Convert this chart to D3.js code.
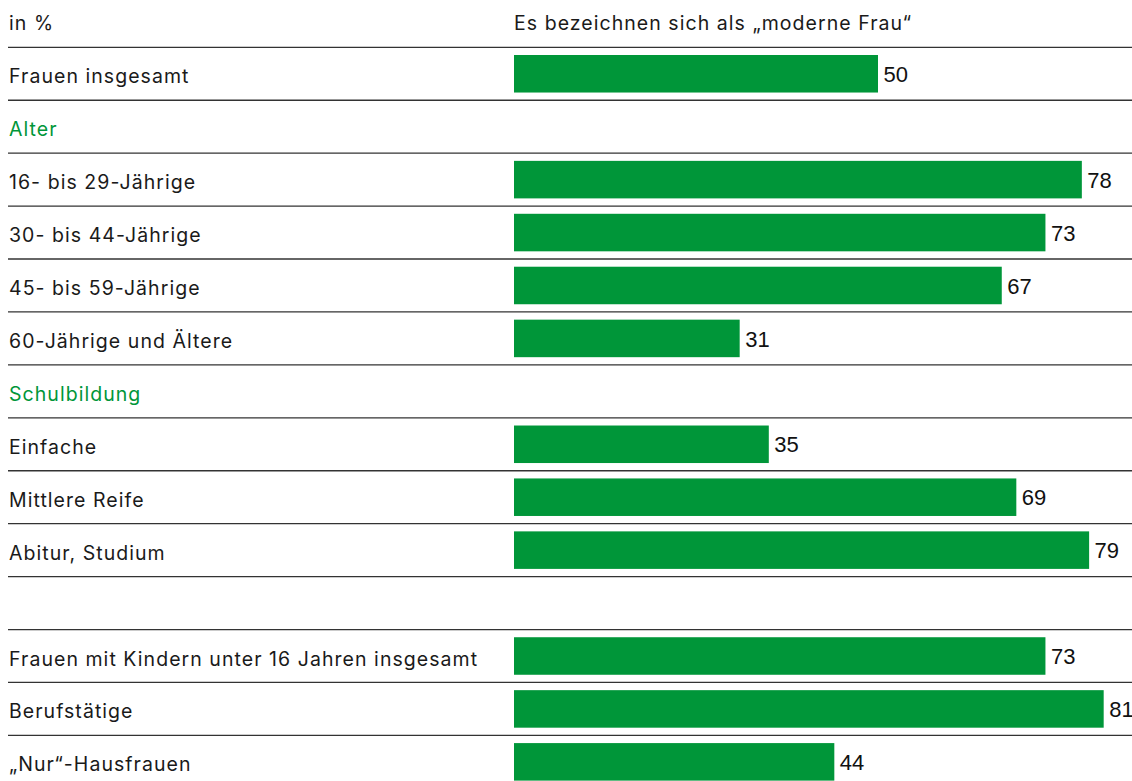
<!DOCTYPE html>
<html>
<head>
<meta charset="utf-8">
<script src="https://cdn.jsdelivr.net/npm/d3@7"></script>
<style>
  html, body { margin: 0; padding: 0; background: #fff; }
  svg { display: block; }
</style>
</head>
<body>
<svg width="1132" height="781"></svg>
<script>
const unitLabel = 'in %';
const seriesTitle = 'Es bezeichnen sich als \u201Emoderne Frau\u201C';

// one entry per table row; null value = section heading or empty spacer row
const rowLabels = [
  'Frauen insgesamt',
  'Alter',
  '16- bis 29-Jährige',
  '30- bis 44-Jährige',
  '45- bis 59-Jährige',
  '60-Jährige und Ältere',
  'Schulbildung',
  'Einfache',
  'Mittlere Reife',
  'Abitur, Studium',
  '',
  'Frauen mit Kindern unter 16 Jahren insgesamt',
  'Berufstätige',
  '\u201ENur\u201C-Hausfrauen',
];
const rowValues = [50, null, 78, 73, 67, 31, null, 35, 69, 79, null, 73, 81, 44];

const green = '#009639';
const labelFont = 'Inter, "Liberation Sans", Arial, sans-serif';
const valueFont = '"Liberation Sans", Arial, sans-serif';

const svg = d3.select('svg');
const rows = rowLabels.map((label, i) => ({label, value: rowValues[i], i}));

const rowH = 52.93;
const firstRule = 47.3;
const y = d3.scaleBand()
  .domain(rows.map(d => d.i))
  .range([firstRule, firstRule + rows.length * rowH])
  .padding(0);
const x = d3.scaleLinear().domain([0, 100]).range([514, 1242]);
const inset = 7.7;

function labelText(sel) {
  return sel.attr('font-family', labelFont)
    .attr('font-size', 19.5)
    .attr('letter-spacing', 1.05);
}

// header
svg.append('text')
  .attr('x', 9).attr('y', 30)
  .call(labelText).attr('fill', '#1a1a1a')
  .text(unitLabel);
svg.append('text')
  .attr('x', x(0)).attr('y', 30)
  .call(labelText).attr('fill', '#1a1a1a')
  .text(seriesTitle);

// rule above every row
svg.append('g').selectAll('line')
  .data(rows)
  .join('line')
  .attr('x1', 8).attr('x2', 1132)
  .attr('y1', d => y(d.i)).attr('y2', d => y(d.i))
  .attr('stroke', '#333').attr('stroke-width', 1.3);

// row labels
svg.append('g').selectAll('text')
  .data(rows)
  .join('text')
  .attr('x', 9)
  .attr('y', d => y(d.i) + 36)
  .call(labelText)
  .attr('fill', d => d.value === null ? green : '#1a1a1a')
  .text(d => d.label);

const barRows = rows.filter(d => d.value !== null);

svg.append('g').selectAll('rect')
  .data(barRows)
  .join('rect')
  .attr('x', x(0))
  .attr('y', d => y(d.i) + inset)
  .attr('width', d => x(d.value) - x(0))
  .attr('height', y.bandwidth() - 2 * inset)
  .attr('fill', green);

svg.append('g').selectAll('text')
  .data(barRows)
  .join('text')
  .attr('x', d => x(d.value) + 5.5)
  .attr('y', d => y(d.i) + y.bandwidth() / 2 + 8.2)
  .attr('font-family', valueFont).attr('font-size', 22)
  .attr('fill', '#111')
  .text(d => d.value);
</script>
</body>
</html>
